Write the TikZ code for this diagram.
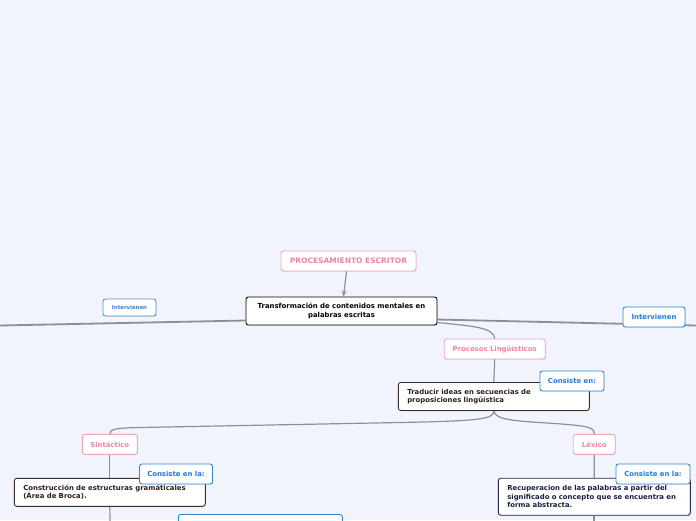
\documentclass[tikz,border=0pt]{standalone}
\usepackage{fontspec}
\setmainfont{DejaVu Sans}
\usetikzlibrary{shadows,arrows.meta}
\definecolor{bg}{HTML}{F1F4FD}
\definecolor{lineC}{HTML}{8E8E96}
\definecolor{pinkB}{HTML}{F2A2C0}
\definecolor{pinkT}{HTML}{EE82A8}
\definecolor{blueB}{HTML}{2F86DC}
\definecolor{blueT}{HTML}{1F78DE}
\definecolor{blueLB}{HTML}{4A92CC}
\definecolor{blueLT}{HTML}{3C82C0}
\definecolor{darkB}{HTML}{3C2C27}
\definecolor{darkT}{HTML}{2E1E1A}
\definecolor{navyB}{HTML}{202A48}
\definecolor{navyT}{HTML}{18203E}
\tikzset{
  box/.style={draw, fill=white, rounded corners=2.5pt, inner sep=0pt, line width=0.9pt,
    font=\bfseries\fontsize{6.9}{8.4}\selectfont,
    drop shadow={opacity=0.18, shadow xshift=0.6pt, shadow yshift=-0.8pt}},
  pinkbox/.style={box, draw=pinkB, text=pinkT},
  bluebox/.style={box, draw=blueB, text=blueT},
  smallblue/.style={box, draw=blueLB, text=blueLT, font=\bfseries\fontsize{5.4}{6.5}\selectfont},
  darkbox/.style={box, draw=darkB, text=darkT, align=left, inner xsep=9pt},
  navybox/.style={box, draw=navyB, text=navyT, align=left, inner xsep=9pt},
  rootbox/.style={box, draw=black, text=black, align=center},
  conn/.style={draw=lineC, line width=1.2pt},
  mainconn/.style={draw=lineC, line width=1.8pt},
}
\begin{document}
\begin{tikzpicture}[x=1pt,y=-1pt]
\useasboundingbox[fill=bg] (0,0) rectangle (696,520);
\clip (0,0) rectangle (696,520);
% coordinates for free ends
\coordinate (leftEnd) at (0,325.5);
\coordinate (rightEnd) at (696,325.5);
\coordinate (bottomL) at (110,521);
\coordinate (bottomR) at (594,521);
% nodes
\node[pinkbox, minimum width=135pt, minimum height=20pt, font=\bfseries\fontsize{7.5}{9}\selectfont] (proc) at (348.5,261) {PROCESAMIENTO ESCRITOR};
\node[rootbox, minimum width=191pt, minimum height=28pt, font=\bfseries\fontsize{6.9}{9}\selectfont] (root) at (341.5,311) {Transformación de contenidos mentales en\\ palabras escritas};
\node[pinkbox, minimum width=101pt, minimum height=20pt] (ling) at (494.7,349) {Procesos Lingüísticos};
\node[darkbox, text width=173pt, minimum height=28pt] (trad) at (493.8,396.5) {Traducir ideas en secuencias de\\ proposiciones lingüística};
\node[pinkbox, minimum width=55pt, minimum height=20pt] (sint) at (109.8,444.3) {Sintáctico};
\node[pinkbox, minimum width=42pt, minimum height=20pt] (lex) at (594.2,444.3) {Léxico};
\node[darkbox, text width=173pt, minimum height=28pt, font=\bfseries\fontsize{6.9}{7.9}\selectfont] (constr) at (109.8,492.3) {Construcción de estructuras gramáticales\\ (Área de Broca).};
\node[navybox, text width=174pt, minimum height=37pt] (recup) at (594.3,496.7) {Recuperacion de las palabras a partir del\\ significado o concepto que se encuentra en\\ forma abstracta.};
\node[box, draw=blueB, minimum width=164pt, minimum height=30pt] (bottomBox) at (260.3,529.5) {};
% connectors
\path[mainconn] (root.west |- 0,320.5) -- (leftEnd);
\path[mainconn] (root.east |- 0,319.5) -- (rightEnd);
\path[conn, -{Stealth[length=6pt,width=5pt]}] (proc.south -| 346.5,0) -- (root.north -| 343.5,0);
\path[conn] (root.east |- 0,322.5) .. controls (470,326) and (494,327) .. (ling.north);
\path[conn] (ling.south) -- (trad.north);
\path[conn] (trad.south) .. controls (494,419) and (480,421) .. (400,422.5) -- (140,427.5) .. controls (116,428) and (109.8,429) .. (sint.north);
\path[conn] (trad.south) .. controls (495,420) and (515,421) .. (555,423.5) .. controls (588,426) and (594.2,427) .. (lex.north);
\path[conn] (sint.south) -- (constr.north);
\path[conn] (lex.south) -- (recup.north);
\path[conn] (constr.south) -- (bottomL);
\path[conn] (recup.south -| bottomR) -- (bottomR);
% nodes sitting on connectors
\node[smallblue, minimum width=53pt, minimum height=17pt] (intL) at (129.5,307.5) {Intervienen};
\node[bluebox, minimum width=62pt, minimum height=20pt] (intR) at (654,317) {Intervienen};
\node[bluebox, minimum width=64pt, minimum height=20pt] (cons1) at (572,381) {Consiste en:};
\node[bluebox, minimum width=73pt, minimum height=20pt] (cons2) at (176,474) {Consiste en la:};
\node[bluebox, minimum width=74pt, minimum height=20pt] (cons3) at (653,474) {Consiste en la:};
\end{tikzpicture}
\end{document}
